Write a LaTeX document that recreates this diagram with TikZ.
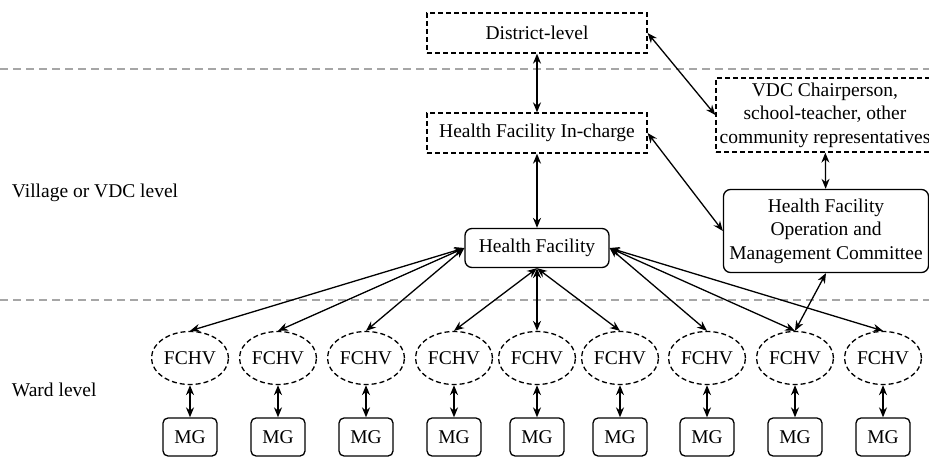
\documentclass[tikz,border=0pt]{standalone}
\usepackage{fontspec}
\setmainfont{Liberation Serif}
\usetikzlibrary{shapes,positioning,arrows.meta}

\begin{document}
\begin{tikzpicture}[<->,>={Stealth[length=10pt,width=8pt]},x=1pt,y=-1pt,node distance=79pt,line width=1.3pt,
    font=\fontsize{19.5}{23.5}\selectfont,
    dash box/.style={draw,dash pattern=on 5pt off 3pt,inner sep=2pt,align=center},
    round box/.style={draw,rounded corners=7pt,inner sep=2pt,align=center},
    fchv node/.style={ellipse,draw,dash pattern=on 5pt off 3pt,minimum width=77pt,minimum height=53pt,inner sep=0pt},
    mg node/.style={draw,rounded corners=5pt,minimum width=54pt,minimum height=38pt,inner sep=0pt},
    level line/.style={-,gray!70,line width=1.2pt,dash pattern=on 8pt off 5pt}]

                \useasboundingbox (0,0) rectangle (929,457);

                % level separators
                \coordinate (l1a) at (0,69);
                \coordinate (l1b) at (929,69);
                \coordinate (l2a) at (0,300);
                \coordinate (l2b) at (929,300);
                \draw[level line] (l1a) -- (l1b);
                \draw[level line] (l2a) -- (l2b);

                \node[anchor=west] (vil) at (8,193) {Village or VDC level};
                \node[anchor=west] (ward) at (8,390) {Ward level};

                \node[dash box, minimum width=220pt, minimum height=40pt] (dist) at (537,33) {District-level};
                \node[dash box, minimum width=220pt, minimum height=40pt] (hfi) at (537,133) {Health Facility In-charge};
                \node[round box, minimum width=144pt, minimum height=39pt] (hf) at (537,248) {Health Facility};
                \node[dash box, minimum width=218pt, minimum height=74pt] (vdc) at (825,115) {VDC Chairperson,\\school-teacher, other\\community representatives};
                \node[round box, minimum width=205pt, minimum height=83pt] (omc) at (826,231) {Health Facility\\Operation and\\Management Committee};

                \node[fchv node] (f1) at (190,358) {FCHV};
                \node[fchv node] (f2) at (278,358) {FCHV};
                \node[fchv node] (f3) at (366,358) {FCHV};
                \node[fchv node] (f4) at (454,358) {FCHV};
                \node[fchv node] (f5) at (537,358) {FCHV};
                \node[fchv node] (f6) at (620,358) {FCHV};
                \node[fchv node] (f7) at (707,358) {FCHV};
                \node[fchv node] (f8) at (795,358) {FCHV};
                \node[fchv node] (f9) at (883,358) {FCHV};

                \node[mg node] (m1) [below of = f1] {MG};
                \node[mg node] (m2) [below of = f2] {MG};
                \node[mg node] (m3) [below of = f3] {MG};
                \node[mg node] (m4) [below of = f4] {MG};
                \node[mg node] (m5) [below of = f5] {MG};
                \node[mg node] (m6) [below of = f6] {MG};
                \node[mg node] (m7) [below of = f7] {MG};
                \node[mg node] (m8) [below of = f8] {MG};
                \node[mg node] (m9) [below of = f9] {MG};

                \path
                    (dist) edge (hfi)
                    (hfi) edge (hf)
                    (dist.east) edge (vdc.west)
                    (hfi.east) edge (omc.west)
                    (vdc) edge (omc)
                    (omc.south) edge (f8.north)

                    (hf.west) edge (f1.north)
                    (hf.west) edge (f2.north)
                    (hf.west) edge (f3.north)
                    (hf.south) edge (f4.north)
                    (hf.south) edge (f5.north)
                    (hf.south) edge (f6.north)
                    (hf.east) edge (f7.north)
                    (hf.east) edge (f8.north)
                    (hf.east) edge (f9.north)

                    (f1) edge (m1)
                    (f2) edge (m2)
                    (f3) edge (m3)
                    (f4) edge (m4)
                    (f5) edge (m5)
                    (f6) edge (m6)
                    (f7) edge (m7)
                    (f8) edge (m8)
                    (f9) edge (m9)
                ;
            \end{tikzpicture}
\end{document}
